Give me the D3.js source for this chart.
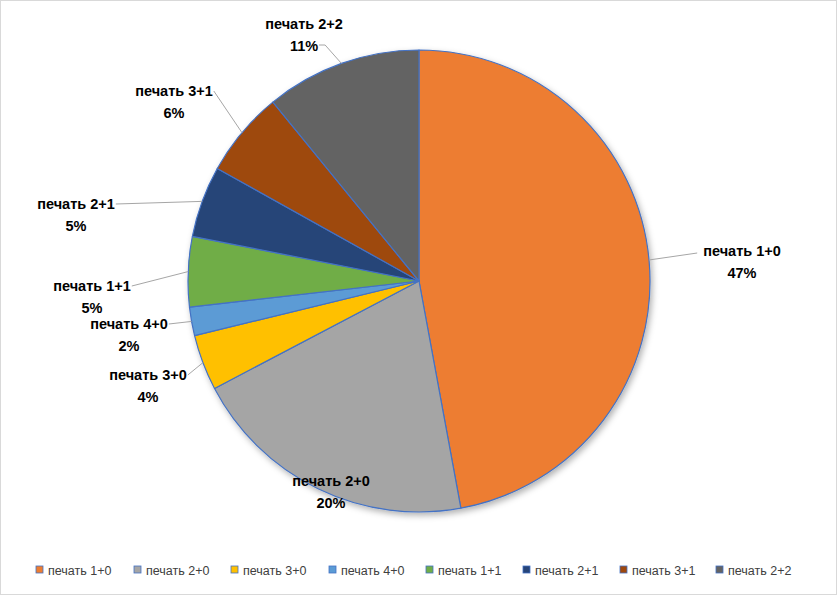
<!DOCTYPE html>
<html>
<head>
<meta charset="utf-8">
<script src="https://cdn.jsdelivr.net/npm/d3@7"></script>
<style>
  body { margin: 0; background: #fff; }
  svg { display: block; }
</style>
</head>
<body>
<script>
// данные
var categories = ["печать 1+0", "печать 2+0", "печать 3+0", "печать 4+0",
                  "печать 1+1", "печать 2+1", "печать 3+1", "печать 2+2"];
var values = [47.1, 20.2, 3.9, 2.0, 4.9, 5.0, 6.0, 10.9];
var colors = ["#ed7d31", "#a5a5a5", "#ffc000", "#5b9bd5",
              "#70ad47", "#264478", "#9e480e", "#636363"];

// расположение подписей относительно центра (px), a = куда тянуть линию
var labelLayout = [
  {dx: 323, dy: -30, a: "l0"},
  {dx: -88, dy: 200, a: null},
  {dx: -271, dy: 94, a: "r0"},
  {dx: -290, dy: 43, a: "r0"},
  {dx: -327, dy: 5, a: "r0"},
  {dx: -343, dy: -77, a: "r0"},
  {dx: -245, dy: -190, a: "r0"},
  {dx: -115, dy: -257, a: "r1"}
];

var w = 837, h = 595;
var cx = 419, cy = 281, r = 231;
var labelFont = "'Liberation Sans', Arial, sans-serif";

var svg = d3.select("body").append("svg")
    .attr("width", w)
    .attr("height", h);

svg.append("rect")
    .attr("x", 0.5).attr("y", 0.5)
    .attr("width", w - 1).attr("height", h - 1)
    .attr("fill", "#fff")
    .attr("stroke", "#d9d9d9");

var defs = svg.append("defs");
var f = defs.append("filter").attr("id", "shadow")
    .attr("x", "-10%").attr("y", "-10%").attr("width", "120%").attr("height", "120%");
f.append("feDropShadow")
    .attr("dx", 2).attr("dy", 3).attr("stdDeviation", 3)
    .attr("flood-color", "#000").attr("flood-opacity", 0.3);

var pie = d3.pie().sort(null).value(function(d) { return d; });
var arcs = pie(values);
var totalSum = d3.sum(values);

var arc = d3.arc().innerRadius(0).outerRadius(r);

var g = svg.append("g").attr("transform", "translate(" + cx + "," + cy + ")");

g.append("g").attr("filter", "url(#shadow)")
  .selectAll("path")
  .data(arcs)
  .enter()
  .append("path")
  .attr("d", arc)
  .attr("fill", function(d, i) { return colors[i]; })
  .attr("stroke", "#4472c4")
  .attr("stroke-width", 1.2)
  .attr("stroke-linejoin", "round");

// подписи
var labels = g.selectAll("g.lbl")
  .data(arcs)
  .enter()
  .append("g")
  .attr("class", "lbl")
  .attr("transform", function(d, i) {
    return "translate(" + labelLayout[i].dx + "," + labelLayout[i].dy + ")";
  });

labels.append("text")
  .attr("class", "l0")
  .attr("text-anchor", "middle")
  .attr("y", 5)
  .style("font-family", labelFont)
  .style("font-weight", "bold")
  .style("font-size", "14.5px")
  .attr("fill", "#000")
  .text(function(d, i) { return categories[i]; });

labels.append("text")
  .attr("class", "l1")
  .attr("text-anchor", "middle")
  .attr("y", 27)
  .style("font-family", labelFont)
  .style("font-weight", "bold")
  .style("font-size", "14.5px")
  .attr("fill", "#000")
  .text(function(d) { return Math.round(d.value / totalSum * 100) + "%"; });

// выносные линии
labels.each(function(d, i) {
  var lay = labelLayout[i];
  if (!lay.a) return;
  var node = d3.select(this);
  var t = node.select("text." + (lay.a.charAt(1) === "0" ? "l0" : "l1")).node();
  var bw = t.getComputedTextLength();
  var ly = lay.a.charAt(1) === "0" ? 0 : 21;
  var ex = lay.a.charAt(0) === "l" ? lay.dx - bw / 2 - 6 : lay.dx + bw / 2 + 1;
  var ey = lay.dy + ly + (lay.a.charAt(0) === "l" ? 2 : 0);
  var mid = (d.startAngle + d.endAngle) / 2;
  var sx = Math.sin(mid) * r, sy = -Math.cos(mid) * r;
  var pts = [[sx, sy], [ex, ey]];
  if (lay.a === "r1") pts = [[sx, sy], [ex + 6, ey], [ex, ey]];
  g.insert("path", "g.lbl")
    .attr("d", d3.line()(pts))
    .attr("fill", "none")
    .attr("stroke", "#a6a6a6")
    .attr("stroke-width", 1);
});

// легенда
var legendX = [36, 134, 231, 329, 426, 523, 620, 716];
var legend = svg.selectAll("g.leg")
  .data(categories)
  .enter()
  .append("g")
  .attr("class", "leg")
  .attr("transform", function(d, i) { return "translate(" + legendX[i] + ",570)"; });

legend.append("rect")
  .attr("x", 0).attr("y", -4)
  .attr("width", 7).attr("height", 7)
  .attr("fill", function(d, i) { return colors[i]; })
  .attr("stroke", "#4472c4")
  .attr("stroke-width", 0.8);

legend.append("text")
  .attr("x", 12)
  .attr("y", 4.5)
  .style("font-family", labelFont)
  .style("font-size", "12.5px")
  .attr("fill", "#404040")
  .text(function(d) { return d; });
</script>
</body>
</html>
